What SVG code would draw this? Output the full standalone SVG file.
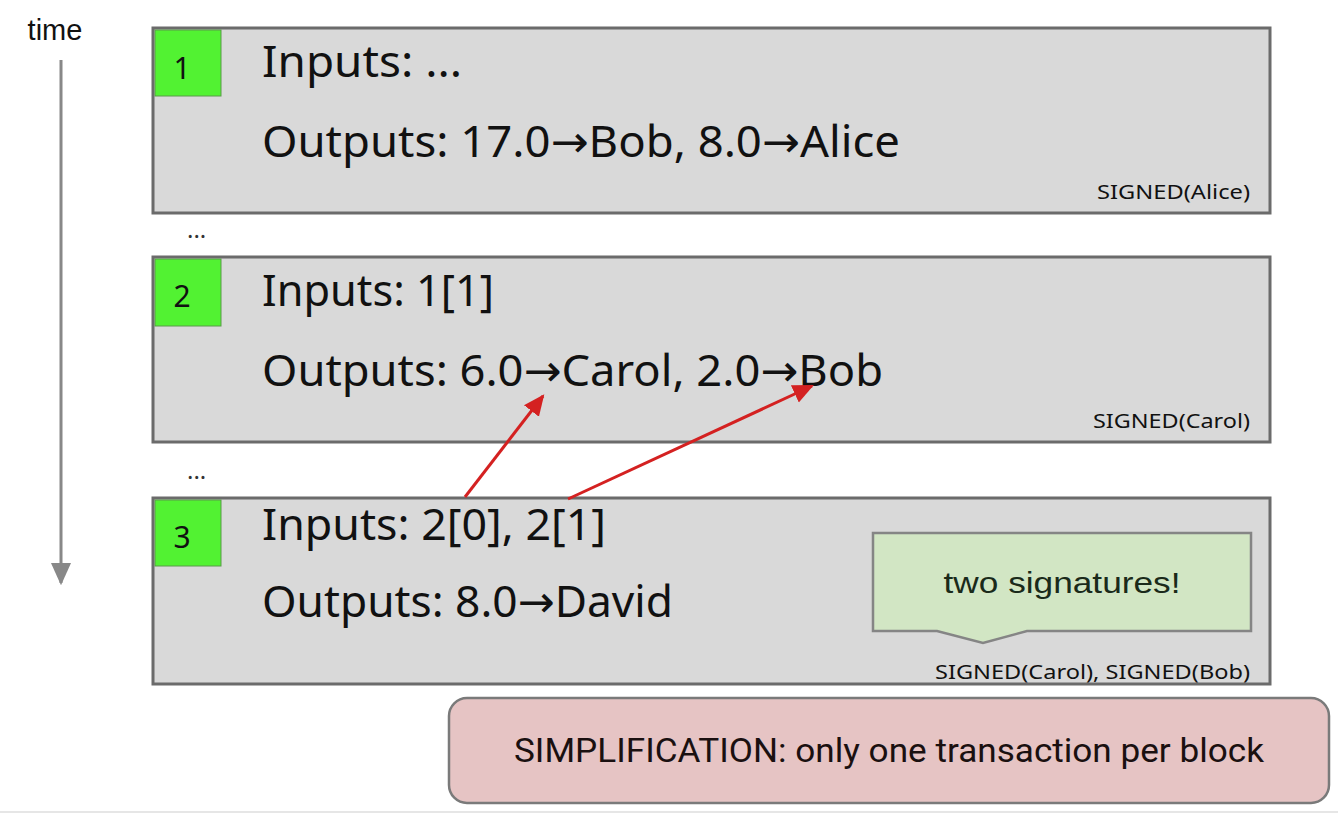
<svg xmlns="http://www.w3.org/2000/svg" width="1338" height="814" viewBox="0 0 1338 814">
<style>
.blk{fill:#d9d9d9;stroke:#6b6b6b;stroke-width:3}
.num{fill:#52f232;stroke:#5a9a4a;stroke-width:1}
.main{font-family:"Noto Sans","Open Sans",sans-serif;font-size:44px;fill:#111}
.ar{font-family:"DejaVu Sans",sans-serif}
.n{font-family:"Noto Sans","Open Sans",sans-serif;font-size:30px;fill:#111;text-anchor:middle}
.sig{font-family:"Noto Sans","Open Sans",sans-serif;font-size:20px;fill:#111;text-anchor:end}
.dots{font-family:"Noto Sans",sans-serif;font-size:24px;fill:#333}
.red{stroke:#d42121;stroke-width:3;fill:none}
</style>
<defs>
<marker id="ra" viewBox="0 0 10 10" refX="9" refY="5" markerWidth="7" markerHeight="7" markerUnits="strokeWidth" orient="auto">
<path d="M0,0.5 L10,5 L0,9.5 z" fill="#d42121"/>
</marker>
<marker id="ga" viewBox="0 0 10 10" refX="9" refY="5" markerWidth="7.5" markerHeight="7.5" markerUnits="strokeWidth" orient="auto">
<path d="M0,0.5 L10,5 L0,9.5 z" fill="#888"/>
</marker>
</defs>
<rect width="1338" height="814" fill="#fff"/>
<line x1="0" y1="812" x2="1338" y2="812" stroke="#e6e6e6" stroke-width="2"/>

<g id="timeline">
<text x="55" y="40" font-family="Liberation Sans, Arial, sans-serif" font-size="29" fill="#111" text-anchor="middle">time</text>
<line x1="61" y1="60" x2="61" y2="583" stroke="#888" stroke-width="3" marker-end="url(#ga)"/>
</g>

<g id="block1">
<rect class="blk" x="153" y="28" width="1117" height="185"/>
<rect class="num" x="155" y="30" width="66" height="66"/>
<text class="n" x="182" y="79">1</text>
<text class="main" x="262" y="77" textLength="200" lengthAdjust="spacingAndGlyphs">Inputs: ...</text>
<text class="main" x="262" y="157" textLength="638" lengthAdjust="spacingAndGlyphs">Outputs: 17.0<tspan class="ar">→</tspan>Bob, 8.0<tspan class="ar">→</tspan>Alice</text>
<text class="sig" x="1250" y="199" textLength="153" lengthAdjust="spacingAndGlyphs">SIGNED(Alice)</text>
</g>

<text class="dots" x="187" y="238">...</text>

<g id="block2">
<rect class="blk" x="153" y="257" width="1117" height="185"/>
<rect class="num" x="155" y="259" width="66" height="67"/>
<text class="n" x="182" y="307">2</text>
<text class="main" x="262" y="306" textLength="232" lengthAdjust="spacingAndGlyphs">Inputs: 1[1]</text>
<text class="main" x="262" y="386" textLength="621" lengthAdjust="spacingAndGlyphs">Outputs: 6.0<tspan class="ar">→</tspan>Carol, 2.0<tspan class="ar">→</tspan>Bob</text>
<text class="sig" x="1250" y="428" textLength="157" lengthAdjust="spacingAndGlyphs">SIGNED(Carol)</text>
</g>

<text class="dots" x="187" y="479">...</text>

<g id="block3">
<rect class="blk" x="153" y="498" width="1117" height="186"/>
<rect class="num" x="155" y="500" width="66" height="66"/>
<text class="n" x="182" y="548">3</text>
<text class="main" x="262" y="540" textLength="344" lengthAdjust="spacingAndGlyphs">Inputs: 2[0], 2[1]</text>
<text class="main" x="262" y="617" textLength="411" lengthAdjust="spacingAndGlyphs">Outputs: 8.0<tspan class="ar">→</tspan>David</text>
<text class="sig" x="1250" y="679" textLength="315" lengthAdjust="spacingAndGlyphs">SIGNED(Carol), SIGNED(Bob)</text>
</g>

<g id="callout">
<path d="M873,533 H1251 V631 H1027 L983,643 L937,631 H873 Z" fill="#d2e6c4" stroke="#858585" stroke-width="2.5"/>
<text x="1062" y="593" font-family="Liberation Sans, Arial, sans-serif" font-size="29" fill="#1a2a1a" text-anchor="middle" textLength="237" lengthAdjust="spacingAndGlyphs">two signatures!</text>
</g>

<g id="note">
<rect x="449" y="698" width="880" height="105" rx="18" fill="#e6c4c4" stroke="#7a7a7a" stroke-width="2.5"/>
<text x="889" y="762" font-family="Roboto, Liberation Sans, sans-serif" font-size="33" fill="#1a1010" text-anchor="middle" textLength="750" lengthAdjust="spacingAndGlyphs">SIMPLIFICATION: only one transaction per block</text>
</g>

<g id="connectors">
<line class="red" x1="465" y1="497" x2="543" y2="396" marker-end="url(#ra)"/>
<line class="red" x1="568" y1="499" x2="812" y2="386" marker-end="url(#ra)"/>
</g>
</svg>
